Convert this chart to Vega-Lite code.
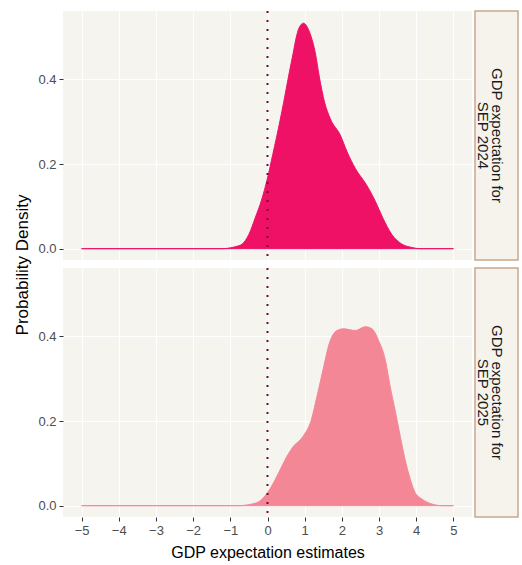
{
  "$schema": "https://vega.github.io/schema/vega-lite/v6.json",
  "background": "#FFFFFF",
  "padding": {"left": 13, "top": 10, "right": 4, "bottom": 4},
  "config": {
    "font": "Liberation Sans",
    "view": {"fill": "#F5F4EE", "stroke": null},
    "axis": {
      "gridColor": "#FFFFFF", "gridWidth": 1, "domain": false,
      "tickColor": "#333333", "tickSize": 4, "labelColor": "#4D4D4D",
      "labelFontSize": 13, "titleFontSize": 16, "titleFontWeight": "normal",
      "titleColor": "#000000", "labelPadding": 3
    }
  },
  "datasets": {
    "dens": [
      {"year": "2024", "x": -5, "y": 0},
      {"year": "2024", "x": -1.2, "y": 0},
      {"year": "2024", "x": -1.0, "y": 0.002},
      {"year": "2024", "x": -0.85, "y": 0.005},
      {"year": "2024", "x": -0.68, "y": 0.011},
      {"year": "2024", "x": -0.5, "y": 0.034},
      {"year": "2024", "x": -0.33, "y": 0.073},
      {"year": "2024", "x": -0.16, "y": 0.115},
      {"year": "2024", "x": 0, "y": 0.167},
      {"year": "2024", "x": 0.14, "y": 0.222},
      {"year": "2024", "x": 0.24, "y": 0.262},
      {"year": "2024", "x": 0.435, "y": 0.346},
      {"year": "2024", "x": 0.59, "y": 0.418},
      {"year": "2024", "x": 0.686, "y": 0.46},
      {"year": "2024", "x": 0.775, "y": 0.5},
      {"year": "2024", "x": 0.84, "y": 0.52},
      {"year": "2024", "x": 0.97, "y": 0.533},
      {"year": "2024", "x": 1.08, "y": 0.522},
      {"year": "2024", "x": 1.17, "y": 0.502},
      {"year": "2024", "x": 1.285, "y": 0.463},
      {"year": "2024", "x": 1.39, "y": 0.408},
      {"year": "2024", "x": 1.535, "y": 0.346},
      {"year": "2024", "x": 1.69, "y": 0.307},
      {"year": "2024", "x": 1.96, "y": 0.268},
      {"year": "2024", "x": 2.14, "y": 0.229},
      {"year": "2024", "x": 2.36, "y": 0.19},
      {"year": "2024", "x": 2.66, "y": 0.151},
      {"year": "2024", "x": 2.9, "y": 0.112},
      {"year": "2024", "x": 3.1, "y": 0.073},
      {"year": "2024", "x": 3.34, "y": 0.034},
      {"year": "2024", "x": 3.61, "y": 0.011},
      {"year": "2024", "x": 3.88, "y": 0.003},
      {"year": "2024", "x": 4.1, "y": 0},
      {"year": "2024", "x": 5, "y": 0},
      {"year": "2025", "x": -5, "y": 0},
      {"year": "2025", "x": -0.8, "y": 0},
      {"year": "2025", "x": -0.415, "y": 0.004},
      {"year": "2025", "x": -0.19, "y": 0.012},
      {"year": "2025", "x": 0, "y": 0.031},
      {"year": "2025", "x": 0.167, "y": 0.055},
      {"year": "2025", "x": 0.346, "y": 0.086},
      {"year": "2025", "x": 0.525, "y": 0.117},
      {"year": "2025", "x": 0.704, "y": 0.141},
      {"year": "2025", "x": 0.883, "y": 0.156},
      {"year": "2025", "x": 1.017, "y": 0.172},
      {"year": "2025", "x": 1.15, "y": 0.195},
      {"year": "2025", "x": 1.33, "y": 0.258},
      {"year": "2025", "x": 1.51, "y": 0.328},
      {"year": "2025", "x": 1.66, "y": 0.383},
      {"year": "2025", "x": 1.87, "y": 0.414},
      {"year": "2025", "x": 2.05, "y": 0.418},
      {"year": "2025", "x": 2.36, "y": 0.414},
      {"year": "2025", "x": 2.63, "y": 0.423},
      {"year": "2025", "x": 2.81, "y": 0.418},
      {"year": "2025", "x": 2.99, "y": 0.39},
      {"year": "2025", "x": 3.17, "y": 0.344},
      {"year": "2025", "x": 3.3, "y": 0.281},
      {"year": "2025", "x": 3.43, "y": 0.226},
      {"year": "2025", "x": 3.57, "y": 0.164},
      {"year": "2025", "x": 3.7, "y": 0.109},
      {"year": "2025", "x": 3.84, "y": 0.0625},
      {"year": "2025", "x": 3.97, "y": 0.031},
      {"year": "2025", "x": 4.15, "y": 0.016},
      {"year": "2025", "x": 4.42, "y": 0.004},
      {"year": "2025", "x": 4.7, "y": 0},
      {"year": "2025", "x": 5, "y": 0}
    ],
    "zero": [{"v": 0}],
    "strips": [
      {"year": "2024", "lab": "GDP expectation for\nSEP 2024"},
      {"year": "2025", "lab": "GDP expectation for\nSEP 2025"}
    ]
  },
  "spacing": 1,
  "hconcat": [
    {
      "bounds": "flush",
      "spacing": 8,
      "vconcat": [
        {
          "width": 409, "height": 249,
          "layer": [
            {
              "data": {"name": "dens"},
              "transform": [{"filter": "datum.year === '2024'"}],
              "mark": {"type": "area", "interpolate": "monotone", "fill": "#EE1166", "stroke": "#EE1166", "strokeWidth": 1, "fillOpacity": 1},
              "encoding": {
                "x": {"field": "x", "type": "quantitative", "scale": {"domain": [-5.5, 5.5], "nice": false, "zero": false},
                  "axis": {"values": [-5,-4,-3,-2,-1,0,1,2,3,4,5], "labels": false, "ticks": false, "title": null, "grid": true}},
                "y": {"field": "y", "type": "quantitative", "scale": {"domain": [-0.0267, 0.5617], "nice": false, "zero": false},
                  "axis": {"values": [0, 0.2, 0.4], "format": ".1f", "title": "Probability Density", "titleFontSize": 17, "titleY": 253.5, "titlePadding": 6, "grid": true}}
              }
            },
            {
              "data": {"name": "zero"},
              "mark": {"type": "rule", "color": "#6E0B2E", "strokeWidth": 2, "strokeDash": [2, 7]},
              "encoding": {"x": {"field": "v", "type": "quantitative"}}
            }
          ]
        },
        {
          "width": 409, "height": 249,
          "layer": [
            {
              "data": {"name": "dens"},
              "transform": [{"filter": "datum.year === '2025'"}],
              "mark": {"type": "area", "interpolate": "monotone", "fill": "#F48796", "stroke": "#F48796", "strokeWidth": 1, "fillOpacity": 1},
              "encoding": {
                "x": {"field": "x", "type": "quantitative", "scale": {"domain": [-5.5, 5.5], "nice": false, "zero": false},
                  "axis": {"values": [-5,-4,-3,-2,-1,0,1,2,3,4,5], "title": "GDP expectation estimates", "titlePadding": 7, "grid": true}},
                "y": {"field": "y", "type": "quantitative", "scale": {"domain": [-0.0267, 0.5617], "nice": false, "zero": false},
                  "axis": {"values": [0, 0.2, 0.4], "format": ".1f", "title": null, "grid": true}}
              }
            },
            {
              "data": {"name": "zero"},
              "mark": {"type": "rule", "color": "#6E0B2E", "strokeWidth": 2, "strokeDash": [2, 7]},
              "encoding": {"x": {"field": "v", "type": "quantitative"}}
            }
          ]
        }
      ]
    },
    {
      "bounds": "flush",
      "spacing": 8,
      "vconcat": [
        {
          "width": 43, "height": 249,
          "view": {"fill": "#F6F3EC", "stroke": "#C9A88C", "strokeWidth": 1.5},
          "data": {"name": "strips"},
          "transform": [{"filter": "datum.year === '2024'"}],
          "mark": {"type": "text", "angle": 90, "lineBreak": "\n", "fontSize": 15, "lineHeight": 14, "color": "#1A1A1A", "align": "center", "baseline": "middle"},
          "encoding": {"text": {"field": "lab", "type": "nominal"}}
        },
        {
          "width": 43, "height": 249,
          "view": {"fill": "#F6F3EC", "stroke": "#C9A88C", "strokeWidth": 1.5},
          "data": {"name": "strips"},
          "transform": [{"filter": "datum.year === '2025'"}],
          "mark": {"type": "text", "angle": 90, "lineBreak": "\n", "fontSize": 15, "lineHeight": 14, "color": "#1A1A1A", "align": "center", "baseline": "middle"},
          "encoding": {"text": {"field": "lab", "type": "nominal"}}
        }
      ]
    }
  ]
}
